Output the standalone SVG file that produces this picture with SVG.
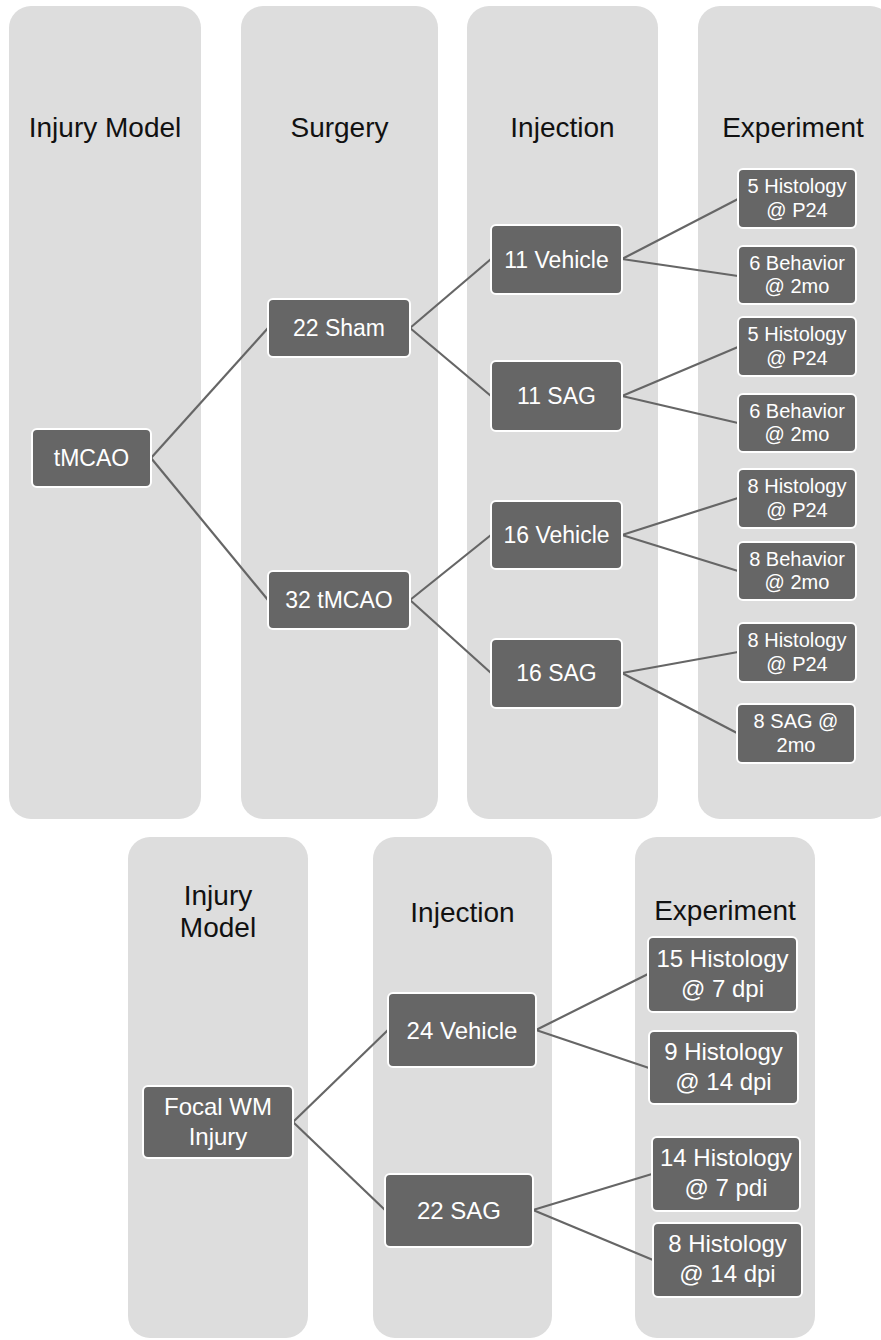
<svg xmlns="http://www.w3.org/2000/svg" width="881" height="1340" viewBox="0 0 881 1340">
<style>
.col{fill:#dddddd;}
.hdr{font-family:"Liberation Sans",Arial,sans-serif;font-size:28px;fill:#111111;text-anchor:middle;}
.node rect{fill:#666666;stroke:#ffffff;stroke-width:2;}
.node text{font-family:"Liberation Sans",Arial,sans-serif;fill:#ffffff;text-anchor:middle;}
.n1 text{font-size:23px;}
.n2 text{font-size:20px;}
.n3 text{font-size:24px;}
.conn line{stroke:#666666;stroke-width:2.2;fill:none;}
</style>
<rect width="881" height="1340" fill="#ffffff"/>
<g id="columns">
<rect class="col" x="9" y="6" width="192" height="813" rx="22"/>
<rect class="col" x="241" y="6" width="197" height="813" rx="22"/>
<rect class="col" x="467" y="6" width="191" height="813" rx="22"/>
<rect class="col" x="698" y="6" width="194" height="813" rx="22"/>
<rect class="col" x="128" y="837" width="180" height="501" rx="22"/>
<rect class="col" x="373" y="837" width="179" height="501" rx="22"/>
<rect class="col" x="635" y="837" width="180" height="501" rx="22"/>
</g>
<g id="headers">
<text class="hdr" x="105" y="137">Injury Model</text>
<text class="hdr" x="339.5" y="137">Surgery</text>
<text class="hdr" x="562.5" y="137">Injection</text>
<text class="hdr" x="793" y="137">Experiment</text>
<text class="hdr" x="218" y="905">Injury</text>
<text class="hdr" x="218" y="937">Model</text>
<text class="hdr" x="462.5" y="922">Injection</text>
<text class="hdr" x="725" y="920">Experiment</text>
</g>
<g id="connectors" class="conn">
<line x1="151" y1="458" x2="268" y2="328"/>
<line x1="151" y1="458" x2="268" y2="600"/>
<line x1="410" y1="328" x2="491" y2="259"/>
<line x1="410" y1="328" x2="491" y2="396"/>
<line x1="410" y1="600" x2="491" y2="535"/>
<line x1="410" y1="600" x2="491" y2="673"/>
<line x1="622" y1="259" x2="738" y2="199"/>
<line x1="622" y1="259" x2="738" y2="276"/>
<line x1="622" y1="396" x2="738" y2="347"/>
<line x1="622" y1="396" x2="738" y2="423"/>
<line x1="622" y1="535" x2="738" y2="498"/>
<line x1="622" y1="535" x2="738" y2="571"/>
<line x1="622" y1="673" x2="738" y2="652"/>
<line x1="622" y1="673" x2="737" y2="733"/>
<line x1="293" y1="1122" x2="388" y2="1030"/>
<line x1="293" y1="1122" x2="385" y2="1210"/>
<line x1="536" y1="1030" x2="648" y2="974"/>
<line x1="536" y1="1030" x2="649" y2="1068"/>
<line x1="533" y1="1210" x2="652" y2="1174"/>
<line x1="533" y1="1210" x2="653" y2="1260"/>
</g>
<g id="n-tmcao" class="node n1"><rect x="32" y="429" width="119" height="58" rx="5"/><text x="91.5" y="466">tMCAO</text></g>
<g id="n-sham" class="node n1"><rect x="268" y="299" width="142" height="58" rx="5"/><text x="339" y="336">22 Sham</text></g>
<g id="n-tmcao32" class="node n1"><rect x="268" y="571" width="142" height="58" rx="5"/><text x="339" y="608">32 tMCAO</text></g>
<g id="n-veh11" class="node n1"><rect x="491" y="225" width="131" height="69" rx="5"/><text x="556.5" y="268">11 Vehicle</text></g>
<g id="n-sag11" class="node n1"><rect x="491" y="361" width="131" height="70" rx="5"/><text x="556.5" y="404">11 SAG</text></g>
<g id="n-veh16" class="node n1"><rect x="491" y="501" width="131" height="68" rx="5"/><text x="556.5" y="543">16 Vehicle</text></g>
<g id="n-sag16" class="node n1"><rect x="491" y="639" width="131" height="69" rx="5"/><text x="556.5" y="681">16 SAG</text></g>
<g id="n-e1" class="node n2"><rect x="738" y="169" width="118" height="59" rx="5"/><text x="797" y="193">5 Histology</text><text x="797" y="217">@ P24</text></g>
<g id="n-e2" class="node n2"><rect x="738" y="246" width="118" height="58" rx="5"/><text x="797" y="270">6 Behavior</text><text x="797" y="293">@ 2mo</text></g>
<g id="n-e3" class="node n2"><rect x="738" y="317" width="118" height="59" rx="5"/><text x="797" y="341">5 Histology</text><text x="797" y="365">@ P24</text></g>
<g id="n-e4" class="node n2"><rect x="738" y="394" width="118" height="58" rx="5"/><text x="797" y="418">6 Behavior</text><text x="797" y="441">@ 2mo</text></g>
<g id="n-e5" class="node n2"><rect x="738" y="469" width="118" height="59" rx="5"/><text x="797" y="493">8 Histology</text><text x="797" y="517">@ P24</text></g>
<g id="n-e6" class="node n2"><rect x="738" y="542" width="118" height="58" rx="5"/><text x="797" y="566">8 Behavior</text><text x="797" y="589">@ 2mo</text></g>
<g id="n-e7" class="node n2"><rect x="738" y="623" width="118" height="59" rx="5"/><text x="797" y="647">8 Histology</text><text x="797" y="671">@ P24</text></g>
<g id="n-e8" class="node n2"><rect x="737" y="704" width="118" height="59" rx="5"/><text x="796" y="728">8 SAG @</text><text x="796" y="752">2mo</text></g>
<g id="n-focal" class="node n3"><rect x="143" y="1086" width="150" height="72" rx="5"/><text x="218" y="1115">Focal WM</text><text x="218" y="1145">Injury</text></g>
<g id="n-veh24" class="node n3"><rect x="388" y="993" width="148" height="74" rx="5"/><text x="462" y="1039">24 Vehicle</text></g>
<g id="n-sag22" class="node n3"><rect x="385" y="1174" width="148" height="73" rx="5"/><text x="459" y="1219">22 SAG</text></g>
<g id="n-b1" class="node n3"><rect x="648" y="937" width="149" height="75" rx="5"/><text x="722.5" y="967">15 Histology</text><text x="722.5" y="997">@ 7 dpi</text></g>
<g id="n-b2" class="node n3"><rect x="649" y="1031" width="149" height="73" rx="5"/><text x="723.5" y="1060">9 Histology</text><text x="723.5" y="1090">@ 14 dpi</text></g>
<g id="n-b3" class="node n3"><rect x="652" y="1137" width="148" height="74" rx="5"/><text x="726" y="1166">14 Histology</text><text x="726" y="1196">@ 7 pdi</text></g>
<g id="n-b4" class="node n3"><rect x="653" y="1223" width="149" height="74" rx="5"/><text x="727.5" y="1252">8 Histology</text><text x="727.5" y="1282">@ 14 dpi</text></g>
</svg>
